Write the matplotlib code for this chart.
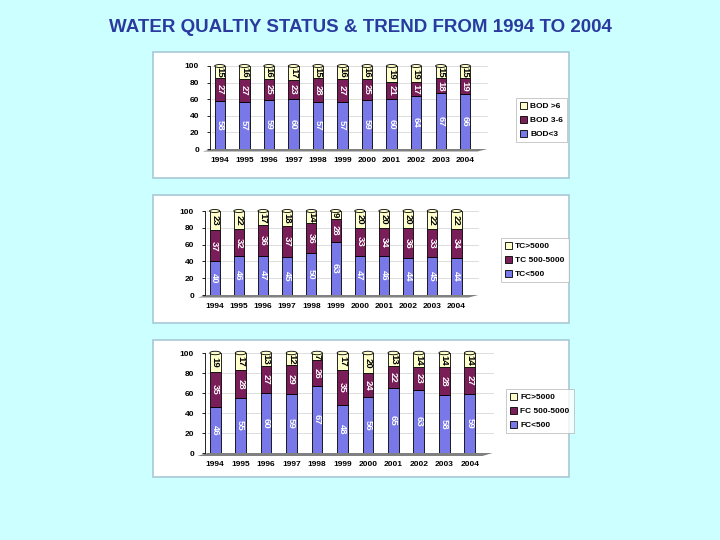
import numpy as np
import matplotlib
matplotlib.use('Agg')
import matplotlib.pyplot as plt
from matplotlib.patches import Rectangle, Polygon, Ellipse

plt.rcParams['font.family'] = ['Liberation Sans', 'DejaVu Sans']

years = ['1994', '1995', '1996', '1997', '1998', '1999', '2000', '2001', '2002', '2003', '2004']

# BOD (%)
bod_low = [58, 57, 59, 60, 57, 57, 59, 60, 64, 67, 66]
bod_mid = [27, 27, 25, 23, 28, 27, 25, 21, 17, 18, 19]
bod_high = [15, 16, 16, 17, 15, 16, 16, 19, 19, 15, 15]
bod_names = ['BOD<3', 'BOD 3-6', 'BOD >6']

# Total coliform (%)
tc_low = [40, 46, 47, 45, 50, 63, 47, 46, 44, 45, 44]
tc_mid = [37, 32, 36, 37, 36, 28, 33, 34, 36, 33, 34]
tc_high = [23, 22, 17, 18, 14, 9, 20, 20, 20, 22, 22]
tc_names = ['TC<500', 'TC 500-5000', 'TC>5000']

# Faecal coliform (%)
fc_low = [46, 55, 60, 59, 67, 48, 56, 65, 63, 58, 59]
fc_mid = [35, 28, 27, 29, 26, 35, 24, 22, 23, 28, 27]
fc_high = [19, 17, 13, 12, 7, 17, 20, 13, 14, 14, 14]
fc_names = ['FC<500', 'FC 500-5000', 'FC>5000']

W, H = 720, 540
c_low, c_mid, c_high = '#7878E8', '#7A1E5A', '#FFFFCC'

fig = plt.figure(figsize=(7.2, 5.4), dpi=100)
fig.patch.set_facecolor('#CCFFFF')

fig.text(360 / W, 1 - 28 / H, 'WATER QUALTIY STATUS & TREND FROM 1994 TO 2004',
         ha='center', va='center', fontsize=13.5, fontweight='bold', color='#2B3A9E')


def px_box(l, t, r, b):
    return [l / W, 1 - b / H, (r - l) / W, (b - t) / H]


def panel(box, axbox, leg_xy, series, names):
    l, t, r, b = box
    fig.patches.append(Rectangle((l / W, 1 - b / H), (r - l) / W, (b - t) / H,
                                 transform=fig.transFigure, facecolor='white',
                                 edgecolor='#A8C8D8', lw=1.2, zorder=-5))
    ax = fig.add_axes(px_box(*axbox))
    ax.set_zorder(1)
    ax.set_facecolor('none')
    x = np.arange(len(years))
    low, mid, high = [np.array(s) for s in series]
    # floor
    ax.add_patch(Polygon([(-0.7, -3), (10.5, -3), (10.9, 0), (-0.3, 0)],
                         closed=True, facecolor='#808080', edgecolor='none',
                         clip_on=False, zorder=1))
    for yv in [20, 40, 60, 80, 100]:
        ax.plot([-0.3, 10.9], [yv, yv], color='#D8D8D8', lw=0.6, zorder=0.5, clip_on=False)
    w = 0.42
    bars = []
    bars.append(ax.bar(x, low, w, color=c_low, edgecolor='black', lw=0.6, zorder=2, label=names[0]))
    bars.append(ax.bar(x, mid, w, bottom=low, color=c_mid, edgecolor='black', lw=0.6, zorder=2, label=names[1]))
    bars.append(ax.bar(x, high, w, bottom=low + mid, color=c_high, edgecolor='black', lw=0.6, zorder=2, label=names[2]))
    tops = low + mid + high
    for i in range(len(years)):
        ax.add_patch(Ellipse((x[i], tops[i]), w, 3.5, facecolor=c_high, edgecolor='black',
                             lw=0.6, zorder=2.5, clip_on=False))
        ax.text(x[i], low[i] / 2, str(low[i]), rotation=-90, ha='center', va='center',
                color='white', fontsize=6.8, fontweight='bold', zorder=3)
        ax.text(x[i], low[i] + mid[i] / 2, str(mid[i]), rotation=-90, ha='center', va='center',
                color='white', fontsize=6.8, fontweight='bold', zorder=3)
        ax.text(x[i], low[i] + mid[i] + high[i] / 2, str(high[i]), rotation=-90, ha='center',
                va='center', color='black', fontsize=6.8, fontweight='bold', zorder=3)
    ax.set_xlim(-0.4, 10.6)
    ax.set_ylim(0, 100)
    ax.set_yticks([0, 20, 40, 60, 80, 100])
    ax.set_xticks(x)
    ax.set_xticklabels(years)
    ax.tick_params(labelsize=6, length=2, width=0.6, pad=6)
    for lab in ax.get_xticklabels() + ax.get_yticklabels():
        lab.set_fontweight('bold')
    ax.tick_params(axis='x', length=0)
    for s in ['top', 'right', 'bottom']:
        ax.spines[s].set_visible(False)
    ax.spines['left'].set_linewidth(0.6)
    handles = [bars[2], bars[1], bars[0]]
    leg = ax.legend(handles, [names[2], names[1], names[0]], loc='upper left',
                    bbox_to_anchor=(leg_xy[0] / W, 1 - leg_xy[1] / H),
                    bbox_transform=fig.transFigure, fontsize=6, frameon=True,
                    fancybox=False, edgecolor='#B0B0B0', handlelength=0.8,
                    handleheight=0.8, handletextpad=0.4, labelspacing=0.7,
                    borderpad=0.5)
    leg.get_frame().set_linewidth(0.6)
    for t in leg.get_texts():
        t.set_fontweight('bold')
    return ax


panel((153, 52, 569, 178), (210, 66, 480, 149), (512, 94),
      [bod_low, bod_mid, bod_high], bod_names)
panel((153, 195, 569, 323), (205, 211, 471, 295), (497, 234),
      [tc_low, tc_mid, tc_high], tc_names)
panel((153, 340, 569, 477), (205, 353, 485, 453), (502, 385),
      [fc_low, fc_mid, fc_high], fc_names)

fig.savefig('out.png', dpi=100, facecolor=fig.get_facecolor())
